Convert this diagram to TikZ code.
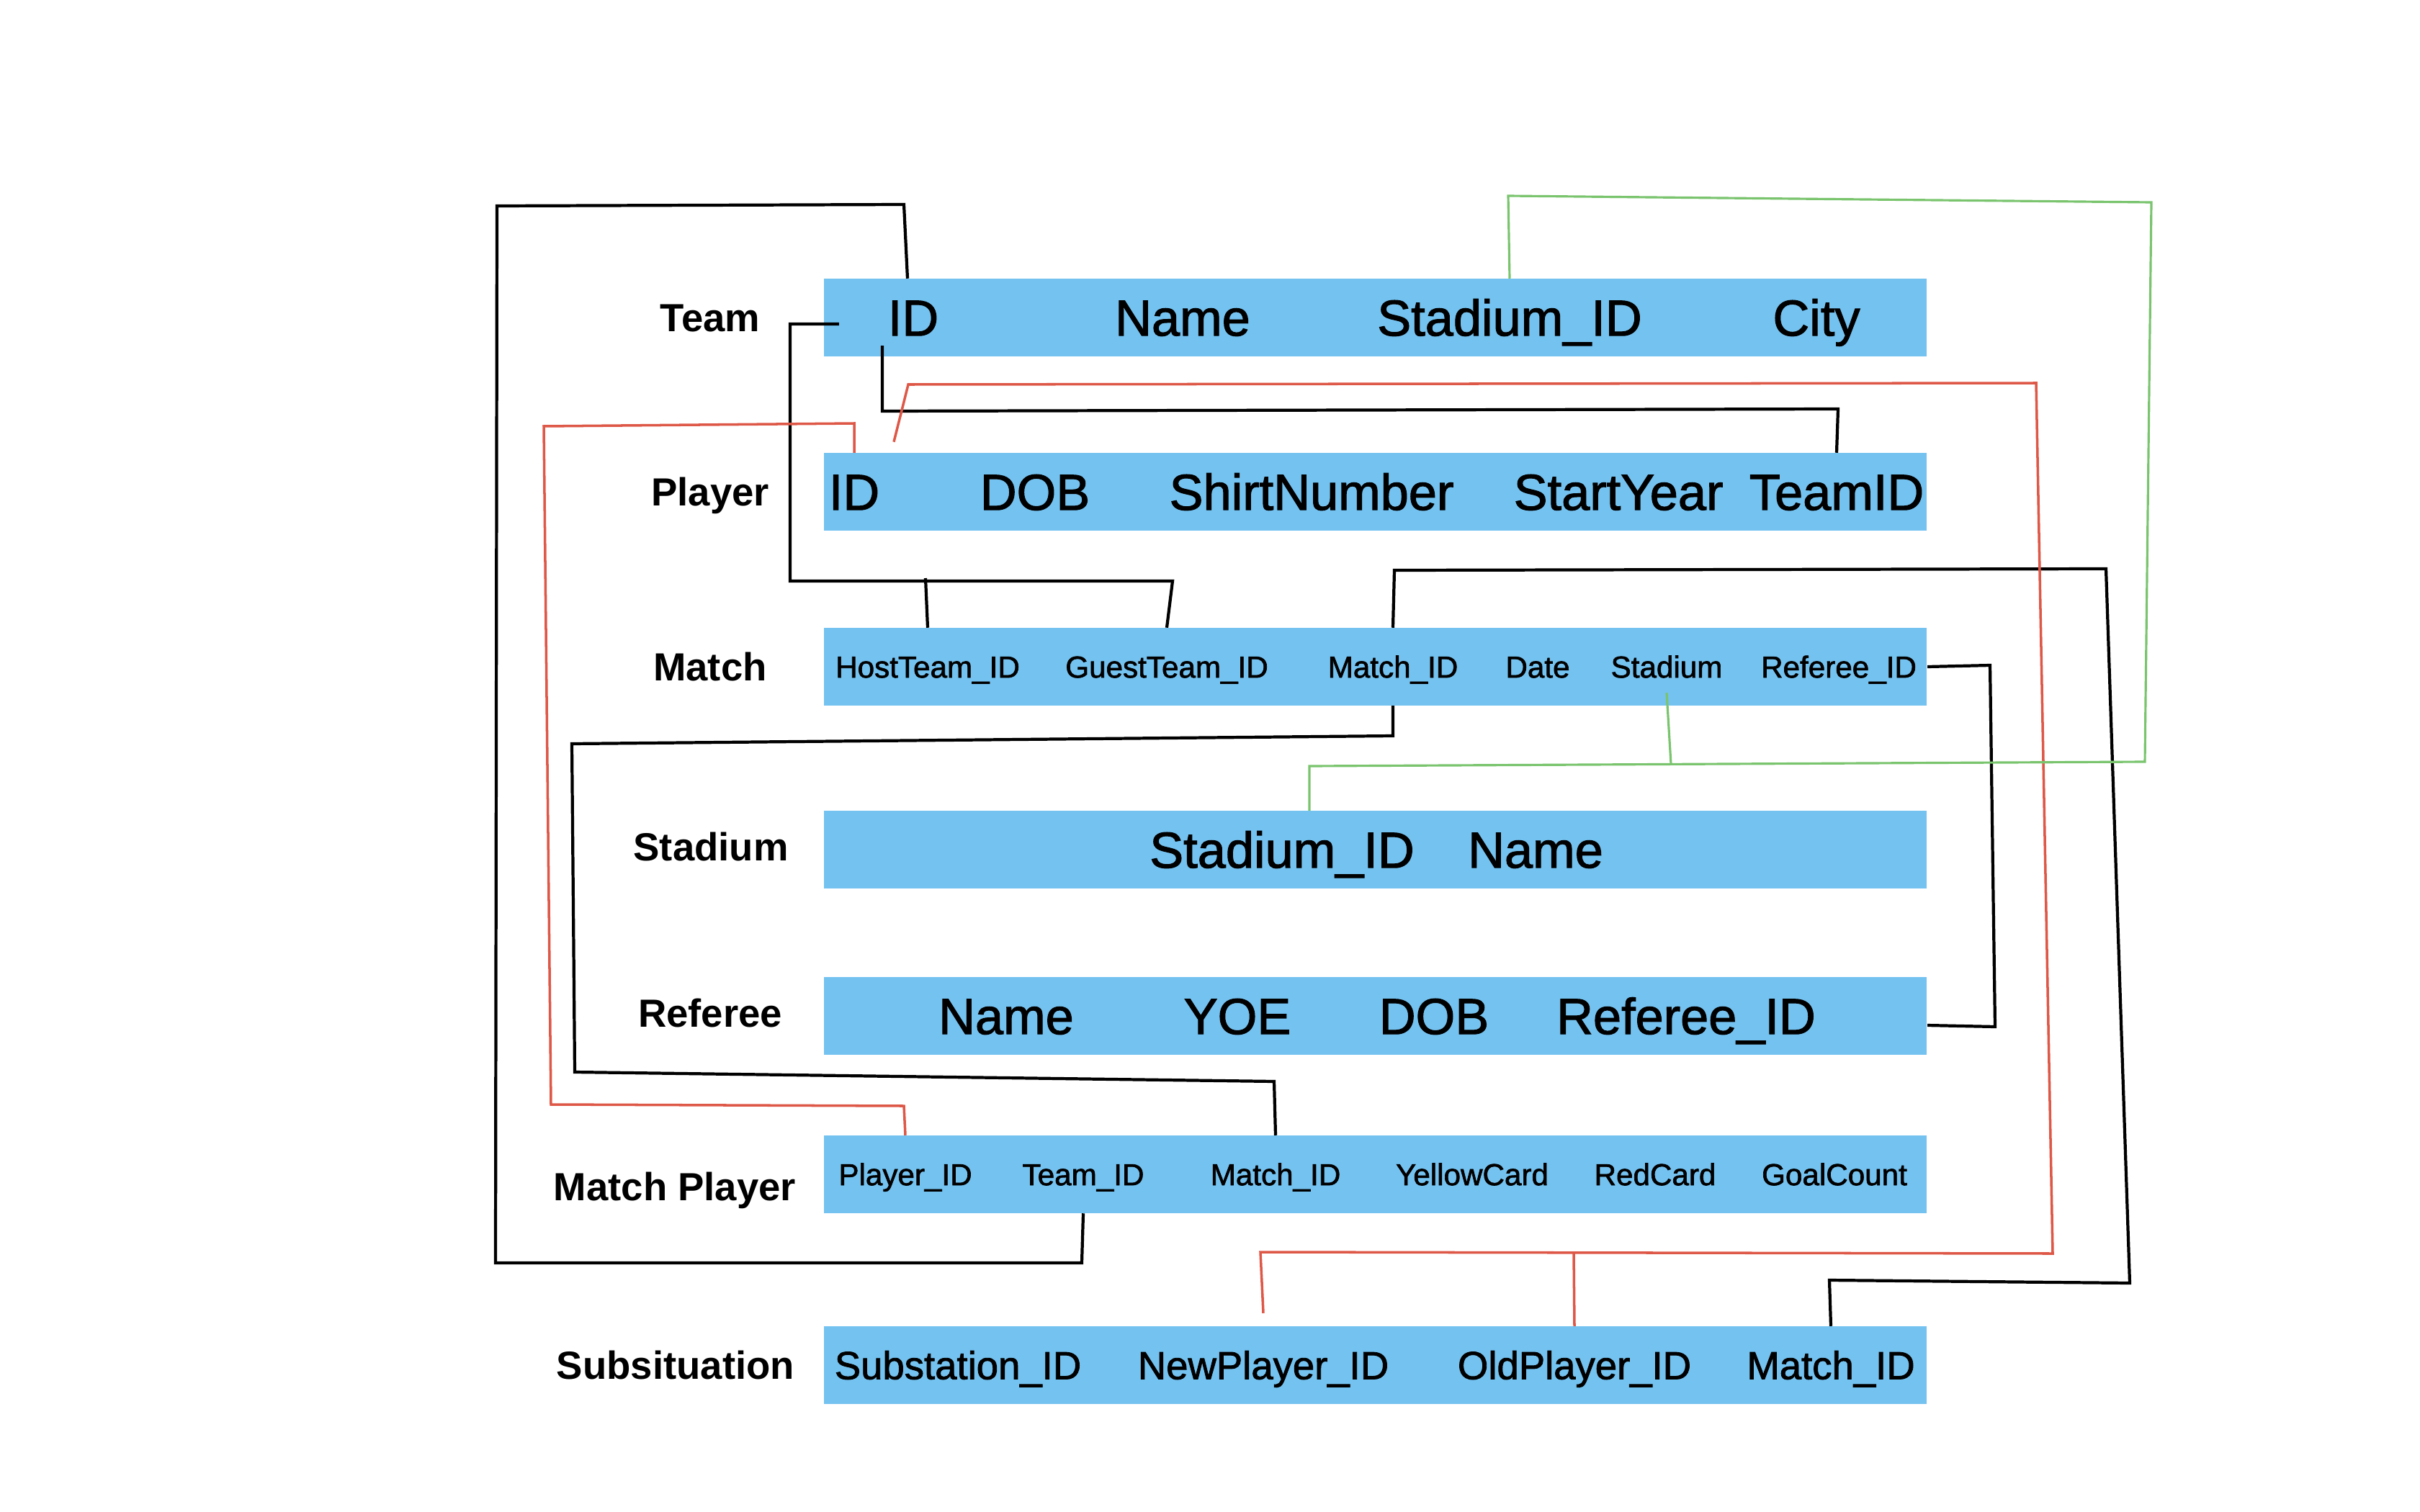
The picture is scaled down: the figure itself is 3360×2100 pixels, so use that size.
\documentclass[tikz,border=0pt]{standalone}
\usepackage{fontspec}
\setmainfont{Liberation Sans}
\newfontfamily\fieldfont{Liberation Sans}[FakeBold=1.6]
\usepackage{tikz}
\usetikzlibrary{positioning}
\definecolor{tblue}{RGB}{116,194,240}
\definecolor{fkred}{RGB}{222,88,72}
\definecolor{fkgreen}{RGB}{122,196,110}
\tikzstyle{Table} = [rectangle, fill = tblue, minimum width = 15.31cm, minimum height = 1.07cm, inner sep = 0cm]
\tikzstyle{Entity} = [inner sep = 0cm, font = \bfseries\fontsize{15.5}{18}\selectfont, text height = 11.1pt, text depth = 0pt]
\tikzstyle{FieldL} = [inner sep = 0cm, minimum height = 1.07cm, font = \fieldfont\fontsize{20}{24}\selectfont, text height = 14.3pt, text depth = 0pt]
\tikzstyle{FieldM} = [inner sep = 0cm, minimum height = 1.07cm, font = \fieldfont\fontsize{15.5}{18}\selectfont, text height = 11.1pt, text depth = 0pt]
\tikzstyle{FieldS} = [inner sep = 0cm, minimum height = 1.07cm, font = \fieldfont\fontsize{12}{14}\selectfont, text height = 8.6pt, text depth = 0pt]
\tikzstyle{KeyBlack} = [black, line width = 1.2pt]
\tikzstyle{KeyRed} = [fkred, line width = 1pt]
\tikzstyle{KeyGreen} = [fkgreen, line width = 0.9pt]

\begin{document}
\begin{tikzpicture}[x=0.01cm, y=-0.01cm]

    \useasboundingbox (0,0) rectangle (3360,2100);

    %%%%%%%%%%%%%%%%%%%%%%
    \node[Entity] (lTeam) at (986,441) {Team};
    \node[Table] (team) at (1909.5,441) {};
    \node[FieldL] (tID) at (1268,441) {ID};
    \node[FieldL] (tName) at (1642,441) {Name};
    \node[FieldL] (tStadium) at (2096,441) {Stadium\_ID};
    \node[FieldL] (tCity) at (2522,441) {City};

    %%%%%%%%%%%%%%%%%%%%%%
    \node[Entity] (lPlayer) at (986,683) {Player};
    \node[Table] (player) at (1909.5,683) {};
    \node[FieldL] (pID) at (1186,683) {ID};
    \node[FieldL] (pDOB) at (1437,683) {DOB};
    \node[FieldL] (pShirt) at (1821,683) {ShirtNumber};
    \node[FieldL] (pStart) at (2247,683) {StartYear};
    \node[FieldL] (pTeamID) at (2550,683) {TeamID};

    %%%%%%%%%%%%%%%%%%%%%%
    \node[Entity] (lMatch) at (986,926) {Match};
    \node[Table] (match) at (1909.5,926) {};
    \node[FieldS] (mHost) at (1288,926) {HostTeam\_ID};
    \node[FieldS] (mGuest) at (1620,926) {GuestTeam\_ID};
    \node[FieldS] (mMatch) at (1934,926) {Match\_ID};
    \node[FieldS] (mDate) at (2135,926) {Date};
    \node[FieldS] (mStadium) at (2314,926) {Stadium};
    \node[FieldS] (mReferee) at (2553,926) {Referee\_ID};

    %%%%%%%%%%%%%%%%%%%%%%
    \node[Entity] (lStadium) at (987,1176) {Stadium};
    \node[Table] (stadium) at (1909.5,1180) {};
    \node[FieldL] (stID) at (1780,1180) {Stadium\_ID};
    \node[FieldL] (stName) at (2132,1180) {Name};

    %%%%%%%%%%%%%%%%%%%%%%
    \node[Entity] (lReferee) at (986,1407) {Referee};
    \node[Table] (referee) at (1909.5,1411) {};
    \node[FieldL] (rName) at (1397,1411) {Name};
    \node[FieldL] (rYOE) at (1718,1411) {YOE};
    \node[FieldL] (rDOB) at (1991,1411) {DOB};
    \node[FieldL] (rID) at (2341,1411) {Referee\_ID};

    %%%%%%%%%%%%%%%%%%%%%%
    \node[Entity] (lMatchPlayer) at (937,1648) {Match Player};
    \node[Table] (mplayer) at (1909.5,1631) {};
    \node[FieldS] (mpPlayer) at (1257,1631) {Player\_ID};
    \node[FieldS] (mpTeam) at (1504,1631) {Team\_ID};
    \node[FieldS] (mpMatch) at (1771,1631) {Match\_ID};
    \node[FieldS] (mpYellow) at (2044,1631) {YellowCard};
    \node[FieldS] (mpRed) at (2298,1631) {RedCard};
    \node[FieldS] (mpGoal) at (2547,1631) {GoalCount};

    %%%%%%%%%%%%%%%%%%%%%%
    \node[Entity] (lSubst) at (938,1896) {Subsituation};
    \node[Table] (subst) at (1909.5,1896) {};
    \node[FieldM] (sID) at (1330,1896) {Substation\_ID};
    \node[FieldM] (sNew) at (1754,1896) {NewPlayer\_ID};
    \node[FieldM] (sOld) at (2186,1896) {OldPlayer\_ID};
    \node[FieldM] (sMatch) at (2542,1896) {Match\_ID};

    %%%%%%%%%%%%%%%%%%%%%%
    \coordinate (jHost) at (1285,803);
    \coordinate (jOld) at (2185,1740);
    \coordinate (jMatchStadium) at (2320,1061);

    \draw[KeyBlack] ([xshift=-0.08cm]tID.north) -- (1255,284) -- (690,286) -- (688,1754) -- (1502,1754) -- (mpTeam.south);
    \draw[KeyBlack] ([xshift=0.22cm, yshift=-0.09cm]team.west) -- (1097,450) -- (1097,807) -- (1628,807) -- (mGuest.north);
    \draw[KeyBlack] (jHost) -- (mHost.north);
    \draw[KeyBlack] ([xshift=-0.43cm, yshift=0.15cm]tID.south) -- (1225,571) -- (2552,568) -- (pTeamID.north);
    \draw[KeyBlack] (mMatch.north) -- (1936,792) -- (2924,790) -- (2957,1782) -- (2540,1778) -- (sMatch.north);
    \draw[KeyBlack] (mMatch.south) -- (1934,1022) -- (794,1033) -- (798,1489) -- (1769,1502) -- (mpMatch.north);
    \draw[KeyBlack] (match.east) -- (2763,924) -- (2770,1426) -- ([yshift=-0.13cm]referee.east);

    \draw[KeyRed] (pID.north) -- (1186,588) -- (755,592) -- (765,1534) -- (1255,1536) -- (mpPlayer.north);
    \draw[KeyRed] ([xshift=0.55cm, yshift=0.15cm]pID.north) -- (1261,534) -- (2827,532) -- (2850,1741) -- (1750,1739) -- ([yshift=0.18cm]sNew.north);
    \draw[KeyRed] (jOld) -- (sOld.north);

    \draw[KeyGreen] (tStadium.north) -- (2094,272) -- (2987,281) -- (2978,1058) -- (1818,1064) -- ([xshift=0.38cm]stID.north);
    \draw[KeyGreen] (jMatchStadium) -- ([yshift=0.18cm]mStadium.south);

\end{tikzpicture}
\end{document}
